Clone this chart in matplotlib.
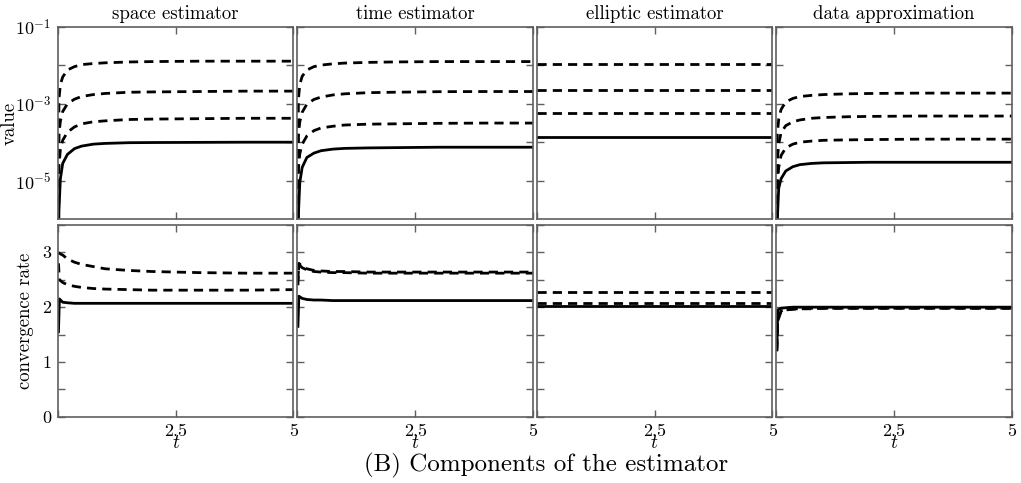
import matplotlib
matplotlib.use('Agg')
import matplotlib.pyplot as plt
import matplotlib.ticker as mticker

plt.rcParams['font.family'] = 'serif'
plt.rcParams['font.serif'] = ['cmr10']
plt.rcParams['mathtext.fontset'] = 'cm'
plt.rcParams['axes.formatter.use_mathtext'] = True
plt.rcParams['axes.unicode_minus'] = False

titles = ['space estimator', 'time estimator', 'elliptic estimator', 'data approximation']

# time samples of the estimator curves
t = [0.0, 0.02, 0.05, 0.1, 0.2, 0.35, 0.5, 0.75, 1.0, 1.5, 2.0, 3.0, 4.0, 5.0]
t_const = [0.0, 5.0]
t_rate = [0.01, 0.03, 0.1, 0.2, 0.35, 0.5, 0.75, 1.0, 1.5, 2.0, 3.0, 4.0, 5.0]

# values (top row), coarse levels first, finest (solid) last
space_vals = [
    [1e-8, 1.3e-3, 3.2e-3, 5.0e-3, 7.6e-3, 9.3e-3, 1.05e-2, 1.12e-2, 1.17e-2, 1.23e-2, 1.26e-2, 1.29e-2, 1.29e-2, 1.29e-2],
    [1e-8, 1.6e-4, 3.5e-4, 6.3e-4, 1.0e-3, 1.32e-3, 1.55e-3, 1.74e-3, 1.86e-3, 2.0e-3, 2.04e-3, 2.09e-3, 2.14e-3, 2.14e-3],
    [1e-8, 2.5e-5, 6.3e-5, 1.12e-4, 1.82e-4, 2.5e-4, 3.0e-4, 3.4e-4, 3.6e-4, 3.9e-4, 4.0e-4, 4.1e-4, 4.2e-4, 4.2e-4],
    [1e-8, 1.6e-6, 1.1e-5, 2.8e-5, 4.8e-5, 6.8e-5, 7.9e-5, 8.9e-5, 9.3e-5, 9.7e-5, 9.8e-5, 9.9e-5, 1.0e-4, 1.0e-4],
]
time_vals = [
    [1e-8, 1.3e-3, 3.2e-3, 5.2e-3, 7.6e-3, 9.3e-3, 1.02e-2, 1.10e-2, 1.15e-2, 1.2e-2, 1.23e-2, 1.26e-2, 1.26e-2, 1.26e-2],
    [1e-8, 1.5e-4, 3.4e-4, 6.0e-4, 9.8e-4, 1.3e-3, 1.5e-3, 1.7e-3, 1.82e-3, 1.95e-3, 2.0e-3, 2.07e-3, 2.09e-3, 2.09e-3],
    [1e-8, 2.0e-5, 5.0e-5, 8.9e-5, 1.45e-4, 2.0e-4, 2.35e-4, 2.6e-4, 2.8e-4, 2.95e-4, 3.0e-4, 3.1e-4, 3.15e-4, 3.15e-4],
    [1e-8, 1.3e-6, 8.9e-6, 2.2e-5, 4.0e-5, 5.2e-5, 6.0e-5, 6.6e-5, 6.9e-5, 7.1e-5, 7.2e-5, 7.4e-5, 7.4e-5, 7.4e-5],
]
elliptic_vals = [
    [1.1e-2, 1.1e-2],
    [2.3e-3, 2.3e-3],
    [5.6e-4, 5.6e-4],
    [1.4e-4, 1.4e-4],
]
data_vals = [
    [1e-8, 1.6e-4, 4.0e-4, 7.1e-4, 1.12e-3, 1.38e-3, 1.55e-3, 1.66e-3, 1.74e-3, 1.82e-3, 1.86e-3, 1.9e-3, 1.9e-3, 1.9e-3],
    [1e-8, 3.2e-5, 8.9e-5, 1.78e-4, 2.7e-4, 3.4e-4, 3.8e-4, 4.2e-4, 4.4e-4, 4.6e-4, 4.7e-4, 4.8e-4, 4.8e-4, 4.8e-4],
    [1e-8, 7.9e-6, 2.2e-5, 4.5e-5, 7.1e-5, 8.9e-5, 1.0e-4, 1.07e-4, 1.12e-4, 1.15e-4, 1.17e-4, 1.2e-4, 1.2e-4, 1.2e-4],
    [1e-8, 1.0e-6, 6.3e-6, 1.12e-5, 1.78e-5, 2.3e-5, 2.6e-5, 2.8e-5, 2.9e-5, 2.95e-5, 3.0e-5, 3.0e-5, 3.0e-5, 3.0e-5],
]

# convergence rates (bottom row), finest (solid) last
space_rates = [
    [3.0, 2.98, 2.95, 2.88, 2.82, 2.78, 2.74, 2.70, 2.67, 2.65, 2.63, 2.62, 2.62],
    [2.8, 2.5, 2.45, 2.41, 2.38, 2.36, 2.34, 2.33, 2.32, 2.31, 2.31, 2.31, 2.32],
    [1.55, 2.15, 2.09, 2.08, 2.07, 2.07, 2.07, 2.07, 2.07, 2.07, 2.07, 2.07, 2.07],
]
time_rates = [
    [2.4, 2.8, 2.74, 2.7, 2.67, 2.66, 2.65, 2.65, 2.64, 2.64, 2.64, 2.64, 2.64],
    [2.5, 2.78, 2.72, 2.68, 2.65, 2.64, 2.63, 2.63, 2.62, 2.62, 2.62, 2.62, 2.62],
    [1.65, 2.2, 2.16, 2.14, 2.13, 2.13, 2.12, 2.12, 2.12, 2.12, 2.12, 2.12, 2.12],
]
elliptic_rates = [
    [2.28, 2.28],
    [2.07, 2.07],
    [2.02, 2.02],
]
data_rates = [
    [1.2, 1.75, 1.92, 1.95, 1.96, 1.97, 1.97, 1.98, 1.98, 1.98, 1.98, 1.98, 1.98],
    [1.25, 1.8, 1.93, 1.96, 1.97, 1.97, 1.98, 1.98, 1.98, 1.98, 1.98, 1.98, 1.98],
    [1.22, 1.95, 1.98, 1.99, 2.0, 2.0, 2.0, 2.0, 2.0, 2.0, 2.0, 2.0, 2.0],
]

top_data = [(t, space_vals), (t, time_vals), (t_const, elliptic_vals), (t, data_vals)]
bottom_data = [(t_rate, space_rates), (t_rate, time_rates), (t_const, elliptic_rates), (t_rate, data_rates)]

spine_grey = '#5f5f5f'


def style(ax):
    for s in ax.spines.values():
        s.set_color(spine_grey)
        s.set_linewidth(1.2)
    ax.tick_params(which='both', direction='in', top=True, right=True,
                   color=spine_grey, length=5, width=1, labelsize=13, pad=5)
    ax.tick_params(which='minor', length=0)


def draw(ax, xs, series):
    n = len(series)
    for i, ys in enumerate(series):
        if i == n - 1:
            ax.plot(xs, ys, color='black', lw=2.0, ls='-')
        else:
            ax.plot(xs, ys, color='black', lw=2.0, ls=(0, (3.3, 2.2)))


fig, axes = plt.subplots(2, 4, figsize=(10.21, 4.83), dpi=100)
fig.subplots_adjust(left=0.0568, right=0.991, top=0.944, bottom=0.137, wspace=0.017, hspace=0.031)

for j in range(4):
    ax = axes[0, j]
    xs, series = top_data[j]
    draw(ax, xs, series)
    ax.set_yscale('log')
    ax.set_ylim(1e-6, 1e-1)
    ax.set_xlim(0, 5)
    ax.yaxis.set_major_locator(mticker.FixedLocator([1e-5, 1e-4, 1e-3, 1e-2, 1e-1]))
    ax.yaxis.set_minor_locator(mticker.NullLocator())
    ax.set_xticks([0, 2.5, 5])
    ax.set_xticklabels([])
    ax.set_title(titles[j], fontsize=13.5, pad=6)
    if j == 0:
        ax.set_yticklabels([r'$10^{-5}$', '', r'$10^{-3}$', '', r'$10^{-1}$'])
        ax.set_ylabel('value', fontsize=13.5, labelpad=-3)
    else:
        ax.set_yticklabels([])
    style(ax)

    ax = axes[1, j]
    xs, series = bottom_data[j]
    draw(ax, xs, series)
    ax.set_ylim(0, 3.5)
    ax.set_xlim(0, 5)
    ax.set_yticks([0, 0.5, 1, 1.5, 2, 2.5, 3, 3.5])
    ax.set_xticks([0, 2.5, 5])
    ax.set_xticklabels(['', '2.5', '5'])
    ax.set_xlabel(r'$t$', fontsize=14, labelpad=-3.5)
    if j == 0:
        ax.set_yticklabels(['0', '', '1', '', '2', '', '3', ''])
        ax.set_ylabel('convergence rate', fontsize=13.5, labelpad=6)
    else:
        ax.set_yticklabels([])
    style(ax)

fig.text(0.535, 0.036, '(B) Components of the estimator', ha='center', va='center', fontsize=18)

fig.savefig('out.png', dpi=100)
